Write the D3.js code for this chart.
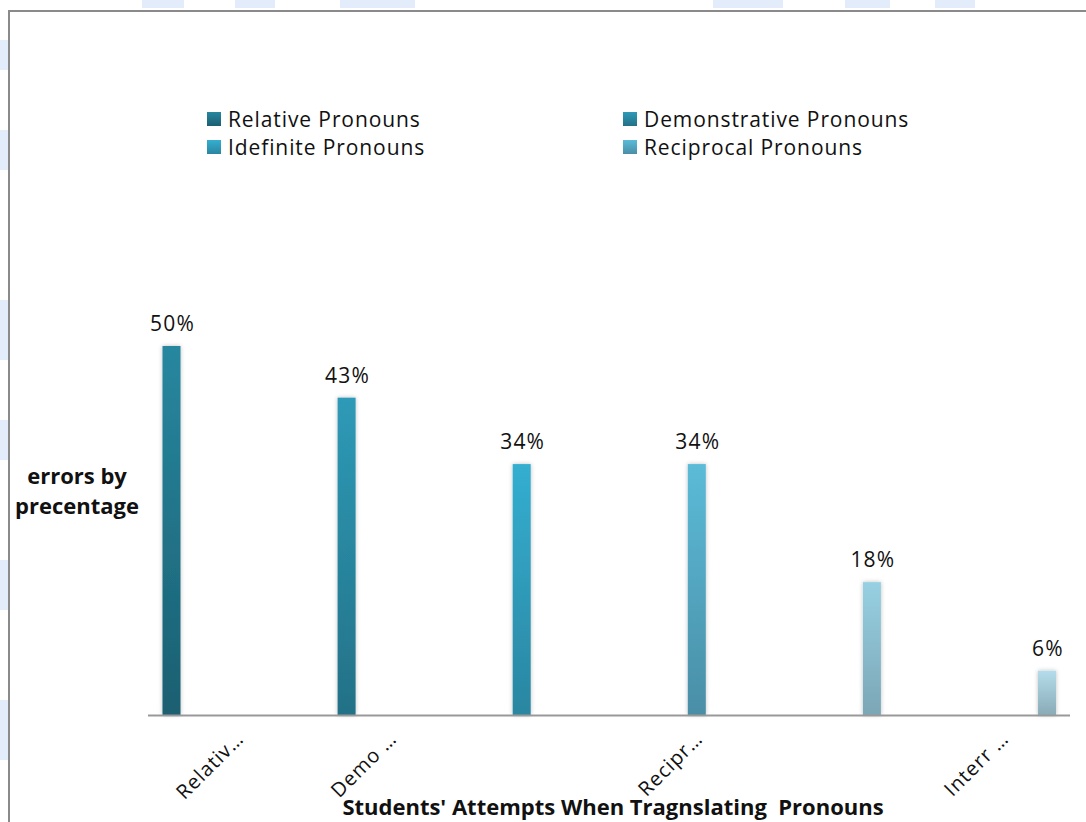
<!DOCTYPE html>
<html>
<head>
<meta charset="utf-8">
<script src="https://cdn.jsdelivr.net/npm/d3@7"></script>
<style>
  body { margin: 0; background: #fff; }
  svg { display: block; font-family: "Open Sans", "Noto Sans", sans-serif; }
</style>
</head>
<body>
<svg id="chart" width="1086" height="822"></svg>
<script>
// data
var categories = ["Relative Pronouns", "Demonstrative Pronouns", "Idefinite Pronouns",
                  "Reciprocal Pronouns", "Possessive Pronouns", "Interrogative Pronouns"];
var values = [50, 43, 34, 34, 18, 6];
var tickLabels = ["Relativ\u2026", "Demo \u2026", "", "Recipr\u2026", "", "Interr \u2026"];
var legendItems = ["Relative Pronouns", "Demonstrative Pronouns", "Idefinite Pronouns", "Reciprocal Pronouns"];

// top / bottom colour of every bar gradient
var topColors = ["#27879f", "#2e9ab7", "#34aed0", "#5bbbd8", "#97d0e2", "#b4dcea"];
var botColors = ["#1b5f71", "#237186", "#2a86a1", "#4a8ea6", "#7ba6b6", "#8aabb8"];

var svg = d3.select("#chart");
var defs = svg.append("defs");

// faint watermark pieces around the frame
var wm = [[142, 0, 42, 8], [235, 0, 40, 8], [340, 0, 75, 8], [713, 0, 70, 8], [845, 0, 45, 8], [935, 0, 40, 8],
          [0, 40, 8, 30], [0, 130, 8, 40], [0, 300, 8, 60], [0, 420, 8, 40], [0, 560, 8, 50], [0, 700, 8, 60]];
svg.append("g").selectAll("rect").data(wm).enter().append("rect")
  .attr("x", function (d) { return d[0]; })
  .attr("y", function (d) { return d[1]; })
  .attr("width", function (d) { return d[2]; })
  .attr("height", function (d) { return d[3]; })
  .attr("fill", "#e2ecfb");

// chart frame
svg.append("path")
  .attr("d", "M9,822V11H1086")
  .attr("fill", "none")
  .attr("stroke", "#8a8a8a")
  .attr("stroke-width", 2);

var x = d3.scalePoint().domain(categories).range([171.5, 1047]);
var xLab = d3.scalePoint().domain(categories).range([245, 1010]);
var y = d3.scaleLinear().domain([0, 50]).range([715, 346]);
var barW = 18;

categories.forEach(function (c, i) {
  var g = defs.append("linearGradient")
    .attr("id", "grad" + i)
    .attr("x1", 0).attr("y1", 0).attr("x2", 0).attr("y2", 1);
  g.append("stop").attr("offset", "0%").attr("stop-color", topColors[i]);
  g.append("stop").attr("offset", "100%").attr("stop-color", botColors[i]);
});

var shadow = defs.append("filter").attr("id", "shadow")
  .attr("x", "-50%").attr("y", "-10%").attr("width", "200%").attr("height", "120%");
shadow.append("feDropShadow")
  .attr("dx", 0).attr("dy", 0).attr("stdDeviation", 2)
  .attr("flood-color", "#000").attr("flood-opacity", 0.25);

// bars
svg.append("g").selectAll("rect")
  .data(values).enter().append("rect")
  .attr("x", function (d, i) { return x(categories[i]) - barW / 2; })
  .attr("y", function (d) { return y(d); })
  .attr("width", barW)
  .attr("height", function (d) { return y(0) - y(d); })
  .attr("fill", function (d, i) { return "url(#grad" + i + ")"; })
  .attr("filter", "url(#shadow)");

// baseline
svg.append("line")
  .attr("x1", 148).attr("x2", 1070)
  .attr("y1", y(0) + 0.5).attr("y2", y(0) + 0.5)
  .attr("stroke", "#999").attr("stroke-width", 2);

// value labels
svg.append("g").selectAll("text")
  .data(values).enter().append("text")
  .attr("x", function (d, i) { return x(categories[i]) + 1; })
  .attr("y", function (d) { return y(d) - 15; })
  .attr("text-anchor", "middle")
  .attr("font-size", 21)
  .attr("letter-spacing", 1.2)
  .attr("fill", "#111")
  .text(function (d) { return d + "%"; });

// rotated category labels
svg.append("g").selectAll("text")
  .data(tickLabels).enter().append("text")
  .attr("transform", function (d, i) { return "translate(" + xLab(categories[i]) + ",740) rotate(-45)"; })
  .attr("text-anchor", "end")
  .attr("font-size", 20)
  .attr("letter-spacing", 1)
  .attr("fill", "#111")
  .text(function (d) { return d; });

// axis titles
svg.append("text")
  .attr("x", 613).attr("y", 815)
  .attr("text-anchor", "middle")
  .attr("font-size", 22).attr("font-weight", "bold")
  .attr("fill", "#111")
  .attr("xml:space", "preserve")
  .text("Students' Attempts When Tragnslating  Pronouns");

var yt = svg.append("text")
  .attr("text-anchor", "middle")
  .attr("font-size", 22).attr("font-weight", "bold")
  .attr("fill", "#111");
yt.append("tspan").attr("x", 77).attr("y", 484).text("errors by");
yt.append("tspan").attr("x", 77).attr("y", 514).text("precentage");

// legend
var legend = svg.append("g").selectAll("g")
  .data(legendItems).enter().append("g")
  .attr("transform", function (d, i) {
    return "translate(" + (i % 2 === 0 ? 207 : 623) + "," + (112 + Math.floor(i / 2) * 28) + ")";
  });
legend.append("rect")
  .attr("width", 14).attr("height", 14)
  .attr("fill", function (d, i) { return "url(#grad" + i + ")"; });
legend.append("text")
  .attr("x", 21).attr("y", 15)
  .attr("font-size", 21)
  .attr("letter-spacing", 0.9)
  .attr("fill", "#111")
  .text(function (d) { return d; });
</script>
</body>
</html>
